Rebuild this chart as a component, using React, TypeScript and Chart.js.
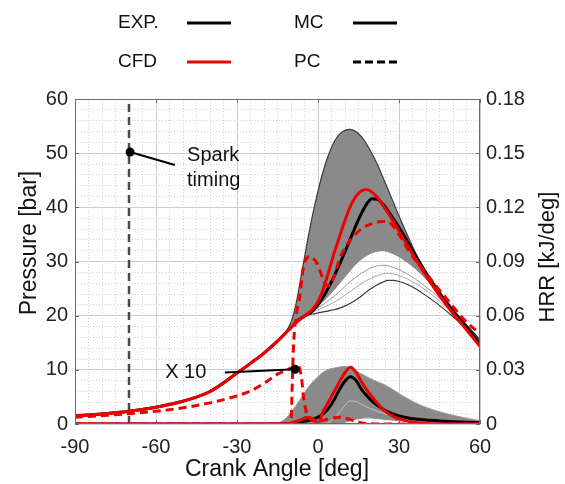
import React, { useEffect, useRef } from 'react';
import { Chart, registerables } from 'chart.js';

Chart.register(...registerables);

const FONT = "'Liberation Sans', Arial, Helvetica, sans-serif";
const RED = 'rgb(238,0,0)';
const BUNDLE = '#8a8a8a';

// ---------- axes ----------
const X_TICKS = [-90, -60, -30, 0, 30, 60];
const Y_TICKS = [0, 10, 20, 30, 40, 50, 60];
const Y2_TICKS = [0, 0.03, 0.06, 0.09, 0.12, 0.15, 0.18];

// ---------- crank angles shared by the cylinder curves ----------
const ANGLES = [-90, -80, -70, -60, -50, -40, -30, -25, -20, -15, -12, -10, -8, -6, -4, -2, 0, 2, 4, 6, 8, 10, 12, 14, 16, 18, 20, 22, 24, 26, 28, 30, 33, 36, 40, 45, 50, 55, 60];

// compression part (-90 .. -15), common to all pressure traces
const COMPRESSION = [1.5, 1.85, 2.35, 3.1, 4.2, 6.0, 9.4, 11.2, 13.1, 15.3];

// pressure [bar]
const P_EXP = [...COMPRESSION, 16.8, 17.8, 18.8, 19.6, 20.2, 20.9, 22.0, 23.5, 25.3, 27.3, 29.5, 31.8, 34.2, 36.6, 38.8, 40.6, 41.6, 41.5, 40.6, 39.3, 37.8, 36.3, 33.8, 31.2, 27.9, 24.2, 20.9, 17.9, 14.8];
const P_CFD = [...COMPRESSION, 16.8, 17.8, 18.8, 19.6, 20.3, 21.2, 22.6, 25.0, 28.2, 31.6, 34.6, 37.6, 40.2, 42.0, 43.0, 43.3, 42.8, 41.8, 40.4, 38.9, 37.3, 35.6, 33.1, 30.6, 27.4, 23.7, 20.4, 17.4, 14.3];
const P_CYCLE_MAX = [...COMPRESSION, 17.0, 18.8, 22.5, 28.0, 33.5, 38.6, 43.0, 46.8, 49.8, 52.1, 53.5, 54.2, 54.4, 54.0, 53.1, 51.7, 49.9, 47.9, 45.6, 43.2, 40.8, 38.4, 35.0, 31.7, 28.0, 24.2, 21.0, 18.3, 15.6];
const P_CYCLE_DENSE_LOW = [...COMPRESSION, 16.8, 17.8, 18.8, 19.7, 20.4, 21.1, 21.8, 22.7, 23.7, 24.8, 26.0, 27.2, 28.4, 29.5, 30.4, 31.1, 31.6, 31.9, 32.0, 31.8, 31.4, 30.9, 29.9, 28.7, 26.8, 24.0, 21.0, 18.1, 15.3];
const P_CYCLE_A = [...COMPRESSION, 16.8, 17.8, 18.8, 19.7, 20.3, 20.9, 21.5, 22.1, 22.8, 23.6, 24.5, 25.4, 26.3, 27.1, 27.8, 28.4, 28.9, 29.2, 29.3, 29.2, 28.9, 28.5, 27.7, 26.8, 25.3, 23.2, 20.6, 17.9, 15.2];
const P_CYCLE_B = [...COMPRESSION, 16.8, 17.8, 18.7, 19.6, 20.1, 20.6, 21.1, 21.5, 22.0, 22.5, 23.1, 23.8, 24.5, 25.2, 25.9, 26.5, 27.0, 27.4, 27.7, 27.8, 27.7, 27.4, 26.8, 26.0, 24.7, 22.7, 20.3, 17.8, 15.1];
const P_CYCLE_MIN = [...COMPRESSION, 16.8, 17.8, 18.7, 19.5, 20.0, 20.3, 20.5, 20.7, 20.9, 21.1, 21.4, 21.8, 22.3, 22.9, 23.6, 24.4, 25.1, 25.7, 26.2, 26.5, 26.5, 26.3, 25.8, 25.0, 23.7, 21.9, 19.8, 17.6, 15.0];

// heat release rate [kJ/deg]
const NO_HEAT = [0, 0, 0, 0, 0, 0, 0, 0, 0, 0];
const HRR_EXP = [...NO_HEAT, 0.0001, 0.0003, 0.0007, 0.0012, 0.0018, 0.0026, 0.0038, 0.0058, 0.0088, 0.0135, 0.0192, 0.0238, 0.0262, 0.0243, 0.0195, 0.0158, 0.0127, 0.0103, 0.0083, 0.0067, 0.0055, 0.0045, 0.0035, 0.0028, 0.0022, 0.0017, 0.0013, 0.001, 0.0008];
const HRR_CFD = [...NO_HEAT, 0.0002, 0.0006, 0.0014, 0.0026, 0.0036, 0.003, 0.0009, 0.0072, 0.0125, 0.018, 0.0235, 0.0284, 0.0314, 0.0288, 0.0236, 0.019, 0.0152, 0.0115, 0.0082, 0.0058, 0.0041, 0.0028, 0.0016, 0.0008, 0.0002, 0, 0, 0, 0];
const HRR_CYCLE_MAX = [0, 0, 0, 0, 0, 0, 0, 0, 0, 0.0005, 0.003, 0.0065, 0.0105, 0.015, 0.0195, 0.0232, 0.0262, 0.0288, 0.0303, 0.031, 0.0316, 0.0319, 0.0312, 0.0295, 0.0278, 0.0262, 0.0247, 0.0234, 0.0222, 0.0206, 0.0188, 0.0168, 0.0142, 0.0118, 0.0092, 0.0068, 0.0048, 0.0032, 0.0019];
const HRR_CYCLE_MIN = [...NO_HEAT, 0, 0, 0, 0, 0, 0, 0, 0, 0, 0, 0.0004, 0.001, 0.0018, 0.0026, 0.0032, 0.0034, 0.0033, 0.003, 0.0027, 0.0024, 0.0021, 0.0019, 0.0016, 0.0014, 0.0011, 0.0008, 0.0006, 0.0004, 0.0003];
const HRR_CYCLE_LATE = [...NO_HEAT, 0, 0, 0, 0, 0, 0, 0, 0, 0.001, 0.003, 0.0065, 0.0105, 0.0128, 0.0125, 0.011, 0.0095, 0.0082, 0.007, 0.006, 0.0052, 0.0045, 0.004, 0.0033, 0.0028, 0.0022, 0.0016, 0.0012, 0.0009, 0.0007];

// pre-chamber (PC) curves, CFD
const PC_HRR_ANGLES = [-90, -80, -70, -60, -50, -40, -30, -25, -20, -15, -12, -10, -8.5, -7.3, -6.5, -6, -5.4, -4.2, -2.3, 0, 2, 4, 6, 8, 10, 12, 14, 16, 20, 25, 30, 40, 50, 60];
const PC_HRR = [0.00375, 0.00465, 0.0057, 0.00705, 0.009, 0.0117, 0.0156, 0.0183, 0.0225, 0.0276, 0.0297, 0.0309, 0.0321, 0.0324, 0.0288, 0.0243, 0.0153, 0.006, 0.0021, 0.0015, 0.0021, 0.00285, 0.00345, 0.00375, 0.0033, 0.0024, 0.00135, 0.0006, 0.00015, 0, 0, 0, 0, 0];
const PC_P_ANGLES = [-90, -11, -10, -9.5, -9, -8, -6.7, -5.4, -4, -3, -2, -0.5, 1.5, 3.2, 4.5, 6, 8, 10, 12, 16, 20, 24, 27, 30, 34, 40, 45, 50, 55, 60];
const PC_P = [0, 0, 0.5, 8, 15, 20.3, 23.6, 29.0, 30.7, 31.0, 30.7, 29.8, 27.3, 25.6, 25.6, 27.3, 30.5, 32.5, 34.0, 36.0, 37.0, 37.4, 37.0, 35.0, 31.7, 27.8, 24.7, 21.7, 18.8, 16.7];

// annotations
const SPARK_ANGLE = -70;
const SPARK_LEADER_X = [-53, -69.6];
const SPARK_LEADER_Y = [47.8, 50.2];
const SPARK_TEXT = { x: -48.5, lines: [{ text: 'Spark', y: 49.6 }, { text: 'timing', y: 45.0 }] };
const X10_LEADER_X = [-34.5, -8.5];
const X10_LEADER_Y = [9.5, 10.1];
const X10_TEXT = { x: -56.6, y: 9.6, text: 'X 10' };

const pts = (xs: number[], ys: number[]) => xs.map((x, i) => ({ x, y: ys[i] }));

const line = (data: any, color: string, width: number, extra: any = {}) => ({
  data,
  borderColor: color,
  backgroundColor: color,
  borderWidth: width,
  pointRadius: 0,
  cubicInterpolationMode: 'monotone',
  fill: false,
  yAxisID: 'y',
  ...extra,
});

const decorPlugin = {
  id: 'decor',
  afterDraw(chart: any) {
    const { ctx, chartArea: a, scales } = chart;
    const sx = scales.x;
    const sy = scales.y;
    const sy2 = scales.y2;
    ctx.save();

    // frame
    ctx.strokeStyle = '#6a6a6a';
    ctx.lineWidth = 1;
    ctx.setLineDash([]);
    ctx.strokeRect(a.left + 0.5, a.top + 0.5, a.right - a.left - 1, a.bottom - a.top - 1);

    // inward tick marks
    ctx.beginPath();
    X_TICKS.forEach((v) => {
      const px = Math.round(sx.getPixelForValue(v)) + 0.5;
      ctx.moveTo(px, a.bottom); ctx.lineTo(px, a.bottom - 4);
      ctx.moveTo(px, a.top); ctx.lineTo(px, a.top + 4);
    });
    Y_TICKS.forEach((v) => {
      const py = Math.round(sy.getPixelForValue(v)) + 0.5;
      ctx.moveTo(a.left, py); ctx.lineTo(a.left + 4, py);
    });
    Y2_TICKS.forEach((v) => {
      const py = Math.round(sy2.getPixelForValue(v)) + 0.5;
      ctx.moveTo(a.right, py); ctx.lineTo(a.right - 4, py);
    });
    ctx.stroke();

    // annotation texts
    ctx.fillStyle = '#111';
    ctx.font = `20px ${FONT}`;
    ctx.textAlign = 'left';
    ctx.textBaseline = 'middle';
    SPARK_TEXT.lines.forEach((l) => {
      ctx.fillText(l.text, sx.getPixelForValue(SPARK_TEXT.x), sy.getPixelForValue(l.y));
    });
    ctx.fillText(X10_TEXT.text, sx.getPixelForValue(X10_TEXT.x), sy.getPixelForValue(X10_TEXT.y));

    // axis titles
    ctx.font = `23px ${FONT}`;
    ctx.textAlign = 'center';
    ctx.save();
    ctx.translate(30, 243);
    ctx.rotate(-Math.PI / 2);
    ctx.fillText('Pressure [bar]', 0, 0);
    ctx.restore();
    ctx.font = `22px ${FONT}`;
    ctx.save();
    ctx.translate(548, 257);
    ctx.rotate(-Math.PI / 2);
    ctx.fillText('HRR [kJ/deg]', 0, 0);
    ctx.restore();
    ctx.font = `23px ${FONT}`;
    ctx.fillText('Crank Angle [deg]', 277, 470);

    // legend
    ctx.font = `19px ${FONT}`;
    ctx.textAlign = 'left';
    const entries = [
      { label: 'EXP.', tx: 118, lx: 187, y: 23, color: '#000', dash: [] as number[] },
      { label: 'CFD', tx: 118, lx: 187, y: 62, color: RED, dash: [] as number[] },
      { label: 'MC', tx: 294, lx: 353, y: 23, color: '#000', dash: [] as number[] },
      { label: 'PC', tx: 294, lx: 353, y: 62, color: '#000', dash: [8, 4] },
    ];
    entries.forEach((e) => {
      ctx.fillStyle = '#111';
      ctx.fillText(e.label, e.tx, e.y);
      ctx.strokeStyle = e.color;
      ctx.lineWidth = 3;
      ctx.setLineDash(e.dash);
      ctx.beginPath();
      ctx.moveTo(e.lx, e.y);
      ctx.lineTo(e.lx + 44, e.y);
      ctx.stroke();
    });
    ctx.restore();
  },
};

export default function App() {
  const ref = useRef<HTMLCanvasElement | null>(null);

  useEffect(() => {
    document.body.style.margin = '0';
    const canvas = ref.current;
    if (!canvas) return;

    const datasets: any[] = [
      // 0,1 : pressure bundle of cycles (filled between max and dense lower edge)
      line(pts(ANGLES, P_CYCLE_MAX), '#3a3a3a', 1.2, { fill: 1, backgroundColor: BUNDLE, order: 20 }),
      line(pts(ANGLES, P_CYCLE_DENSE_LOW), '#8a8a8a', 1, { order: 21 }),
      // 2,3 : sparse low cycles
      line(pts(ANGLES, P_CYCLE_A), '#9a9a9a', 1, { order: 19 }),
      line(pts(ANGLES, P_CYCLE_B), '#a8a8a8', 1, { order: 19 }),
      // 4 : lowest cycle
      line(pts(ANGLES, P_CYCLE_MIN), '#3a3a3a', 1.2, { order: 18 }),
      // 5,6 : HRR bundle
      line(pts(ANGLES, HRR_CYCLE_MAX), '#9a9a9a', 1, { fill: 6, backgroundColor: BUNDLE, yAxisID: 'y2', order: 20 }),
      line(pts(ANGLES, HRR_CYCLE_MIN), '#8a8a8a', 1, { yAxisID: 'y2', order: 21 }),
      // 7 : lighter late cycle
      line(pts(ANGLES, HRR_CYCLE_LATE), '#c4c4c4', 1, { yAxisID: 'y2', order: 17 }),
      // 8,9 : EXP / CFD pressure
      line(pts(ANGLES, P_EXP), '#000', 3, { order: 8 }),
      line(pts(ANGLES, P_CFD), RED, 3, { order: 6 }),
      // 10,11 : EXP / CFD HRR
      line(pts(ANGLES, HRR_EXP), '#000', 3, { yAxisID: 'y2', order: 8 }),
      line(pts(ANGLES, HRR_CFD), RED, 3, { yAxisID: 'y2', order: 6 }),
      // 12,13 : PC dashed curves
      line(pts(PC_HRR_ANGLES, PC_HRR), RED, 3, { yAxisID: 'y2', borderDash: [8, 5], order: 5 }),
      line(pts(PC_P_ANGLES, PC_P), RED, 3, { borderDash: [8, 5], order: 5 }),
      // 14 : spark timing
      line(pts([SPARK_ANGLE, SPARK_ANGLE], [0, 60]), '#4a4a4a', 2.5, { borderDash: [8, 5], cubicInterpolationMode: 'default', order: 30 }),
      // 15,16 : leaders
      line(pts(SPARK_LEADER_X, SPARK_LEADER_Y), '#000', 2, { pointRadius: [0, 4.5], pointBackgroundColor: '#000', pointBorderWidth: 0, cubicInterpolationMode: 'default', order: 1 }),
      line(pts(X10_LEADER_X, X10_LEADER_Y), '#000', 2, { pointRadius: [0, 4.5], pointBackgroundColor: '#000', pointBorderWidth: 0, cubicInterpolationMode: 'default', order: 1 }),
    ];

    const chart = new Chart(canvas, {
      type: 'line',
      data: { datasets },
      options: {
        responsive: false,
        animation: false,
        layout: { padding: { top: 99, left: 0, right: 0, bottom: 0 } },
        plugins: {
          legend: { display: false },
          tooltip: { enabled: false },
        },
        scales: {
          x: {
            type: 'linear',
            min: -90,
            max: 60,
            afterFit: (s: any) => { s.height = 60; },
            ticks: {
              stepSize: 5,
              autoSkip: false,
              maxRotation: 0,
              padding: 11,
              color: '#222',
              font: { family: FONT, size: 20 },
              callback: (v: any) => (X_TICKS.includes(Number(v)) ? String(v) : ''),
            },
            grid: {
              drawTicks: false,
              lineWidth: 1,
              color: (c: any) => (c.tick && Number(c.tick.value) % 30 === 0 ? '#cdcdcd' : '#d2d2d2'),
            },
            border: {
              display: false,
              dash: (c: any) => (c.tick && Number(c.tick.value) % 30 === 0 ? [] : [1, 2]),
            },
          },
          y: {
            type: 'linear',
            position: 'left',
            min: 0,
            max: 60,
            afterFit: (s: any) => { s.width = 75; },
            ticks: {
              stepSize: 2,
              autoSkip: false,
              padding: 7,
              color: '#222',
              font: { family: FONT, size: 20 },
              callback: (v: any) => (Y_TICKS.includes(Number(v)) ? String(v) : ''),
            },
            grid: {
              drawTicks: false,
              lineWidth: 1,
              color: (c: any) => (c.tick && Number(c.tick.value) % 10 === 0 ? '#cdcdcd' : '#d2d2d2'),
            },
            border: {
              display: false,
              dash: (c: any) => (c.tick && Number(c.tick.value) % 10 === 0 ? [] : [1, 2]),
            },
          },
          y2: {
            type: 'linear',
            position: 'right',
            min: 0,
            max: 0.18,
            afterFit: (s: any) => { s.width = 85; },
            ticks: {
              stepSize: 0.03,
              autoSkip: false,
              padding: 6,
              color: '#222',
              font: { family: FONT, size: 20 },
              callback: (v: any) => (Number(v) === 0 ? '0' : Number(v).toFixed(2)),
            },
            grid: { display: false, drawTicks: false },
            border: { display: false },
          },
        },
      } as any,
      plugins: [decorPlugin],
    });

    return () => chart.destroy();
  }, []);

  return (
    <div style={{ width: 565, height: 484 }}>
      <canvas ref={ref} width={565} height={484} style={{ display: 'block' }} />
    </div>
  );
}
